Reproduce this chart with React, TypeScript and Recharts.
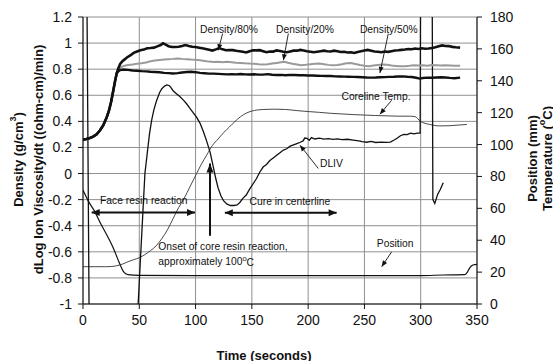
import React from 'react';
import { LineChart, Line, XAxis, YAxis, CartesianGrid, ReferenceLine, ReferenceDot } from 'recharts';

const timeTicks = [0, 50, 100, 150, 200, 250, 300, 350];
const minorTimeTicks = [0, 10, 20, 30, 40, 50, 60, 70, 80, 90, 100, 110, 120, 130, 140, 150, 160, 170, 180, 190, 200, 210, 220, 230, 240, 250, 260, 270, 280, 290, 300, 310, 320, 330, 340, 350];
const leftTicks = [-1, -0.8, -0.6, -0.4, -0.2, 0, 0.2, 0.4, 0.6, 0.8, 1, 1.2];
const rightTicks = [0, 20, 40, 60, 80, 100, 120, 140, 160, 180];

// shared rise of the three density profiles (s, g/cm3)
const densityRise: [number, number][] = [
  [0, 0.26], [3, 0.265], [6, 0.272], [9, 0.283], [12, 0.3], [15, 0.33], [18, 0.37], [21, 0.43],
  [23, 0.48], [25, 0.55], [27, 0.64], [28.5, 0.71],
];

const density80: [number, number][] = [
  [30, 0.77], [31.5, 0.81], [33, 0.84], [35, 0.862], [37, 0.875], [39, 0.89], [42, 0.905], [45, 0.925],
  [48, 0.935], [51, 0.945], [54, 0.95], [57, 0.96], [60, 0.962], [63, 0.965], [66, 0.975], [69, 0.985],
  [71, 0.998], [73, 0.99], [76, 0.976], [79, 0.97], [82, 0.97], [85, 0.972], [88, 0.978], [91, 0.985],
  [94, 0.978], [97, 0.972], [100, 0.97], [103, 0.965], [106, 0.96], [109, 0.955], [112, 0.949], [115, 0.943],
  [118, 0.952], [121, 0.962], [124, 0.952], [127, 0.945], [130, 0.947], [133, 0.946], [136, 0.941],
  [139, 0.938], [142, 0.933], [145, 0.928], [148, 0.937], [151, 0.945], [154, 0.944], [157, 0.946],
  [160, 0.938], [163, 0.93], [166, 0.936], [169, 0.935], [172, 0.944], [175, 0.94], [178, 0.934],
  [181, 0.93], [184, 0.936], [187, 0.942], [190, 0.942], [193, 0.948], [196, 0.943], [199, 0.938],
  [202, 0.934], [205, 0.93], [208, 0.934], [211, 0.938], [214, 0.942], [217, 0.938], [220, 0.936],
  [223, 0.942], [226, 0.938], [229, 0.932], [232, 0.933], [235, 0.928], [238, 0.93], [241, 0.924],
  [244, 0.932], [247, 0.938], [250, 0.943], [253, 0.948], [256, 0.942], [259, 0.936], [262, 0.934],
  [265, 0.93], [268, 0.935], [271, 0.933], [274, 0.938], [277, 0.943], [280, 0.945], [283, 0.948],
  [286, 0.951], [289, 0.955], [292, 0.953], [295, 0.958], [298, 0.955], [301, 0.96], [304, 0.957],
  [307, 0.959], [310, 0.963], [313, 0.968], [316, 0.975], [319, 0.982], [322, 0.978], [325, 0.977],
  [328, 0.971], [331, 0.968], [335, 0.965],
];

const density20: [number, number][] = [
  [30, 0.77], [31.5, 0.795], [33, 0.81], [36, 0.825], [40, 0.832], [44, 0.836], [48, 0.842], [52, 0.846],
  [56, 0.852], [60, 0.86], [64, 0.866], [68, 0.87], [72, 0.874], [76, 0.877], [80, 0.879], [84, 0.882],
  [88, 0.879], [92, 0.877], [96, 0.874], [100, 0.872], [104, 0.868], [108, 0.863], [112, 0.858],
  [116, 0.855], [120, 0.857], [124, 0.853], [128, 0.856], [132, 0.853], [136, 0.85], [140, 0.848],
  [144, 0.845], [148, 0.843], [152, 0.842], [156, 0.838], [160, 0.836], [164, 0.838], [168, 0.843],
  [172, 0.848], [176, 0.853], [179, 0.856], [182, 0.849], [186, 0.841], [190, 0.836], [194, 0.831],
  [198, 0.834], [202, 0.838], [206, 0.842], [210, 0.843], [214, 0.838], [218, 0.833], [222, 0.83],
  [226, 0.832], [230, 0.838], [234, 0.845], [238, 0.848], [242, 0.84], [246, 0.832], [250, 0.826],
  [254, 0.822], [258, 0.828], [262, 0.832], [266, 0.835], [270, 0.834], [274, 0.828], [278, 0.825],
  [282, 0.822], [286, 0.823], [290, 0.826], [294, 0.83], [298, 0.828], [302, 0.83], [306, 0.826],
  [310, 0.832], [314, 0.83], [318, 0.828], [322, 0.83], [326, 0.828], [330, 0.826], [335, 0.826],
];

const density50: [number, number][] = [
  [30, 0.77], [31.5, 0.785], [33, 0.793], [36, 0.797], [40, 0.795], [44, 0.79], [48, 0.788], [52, 0.785],
  [56, 0.783], [60, 0.78], [64, 0.778], [68, 0.776], [72, 0.772], [76, 0.77], [80, 0.767], [84, 0.77],
  [88, 0.775], [92, 0.778], [96, 0.78], [100, 0.777], [104, 0.772], [108, 0.769], [112, 0.766],
  [116, 0.766], [120, 0.764], [124, 0.762], [128, 0.76], [132, 0.761], [136, 0.76], [140, 0.763],
  [144, 0.76], [148, 0.759], [152, 0.761], [156, 0.758], [160, 0.758], [164, 0.762], [168, 0.757],
  [172, 0.755], [176, 0.756], [180, 0.754], [184, 0.756], [188, 0.755], [192, 0.753], [196, 0.754],
  [200, 0.752], [204, 0.751], [208, 0.75], [212, 0.749], [216, 0.748], [220, 0.748], [224, 0.745],
  [228, 0.744], [232, 0.743], [236, 0.742], [240, 0.741], [244, 0.74], [248, 0.738], [252, 0.736],
  [256, 0.735], [260, 0.736], [264, 0.738], [268, 0.739], [272, 0.741], [276, 0.742], [280, 0.744],
  [284, 0.745], [288, 0.742], [292, 0.74], [296, 0.734], [299, 0.728], [302, 0.732], [306, 0.735],
  [310, 0.734], [314, 0.736], [318, 0.738], [322, 0.736], [326, 0.733], [330, 0.731], [335, 0.735],
];

// dLog ion viscosity / dt, runs off the plot at both ends of the press cycle
const dliv: [number, number][] = [
  [3.3, 1.6], [5.6, -1.3], [20, -3], [47, -3], [49, -1], [51, -0.66], [53, -0.33], [55, 0], [57, 0.15],
  [59, 0.3], [61, 0.41], [63, 0.49], [65.4, 0.56], [68, 0.62], [70, 0.65], [72.5, 0.67], [74.5, 0.68],
  [76.5, 0.675], [78, 0.66], [80, 0.635], [83, 0.612], [86, 0.59], [89, 0.565], [92, 0.535], [95, 0.5],
  [98, 0.465], [101, 0.43], [104, 0.385], [107, 0.32], [110, 0.245], [113, 0.16], [115.5, 0.06],
  [118, -0.04], [120, -0.11], [122.5, -0.17], [125, -0.21], [128, -0.235], [131, -0.245], [134, -0.245],
  [137, -0.24], [139.5, -0.22], [142, -0.19], [145, -0.165], [148, -0.12], [151, -0.08], [154, -0.04],
  [157, 0.01], [160, 0.05], [163, 0.07], [166, 0.1], [169, 0.12], [172, 0.14], [175, 0.16], [178, 0.18],
  [181, 0.19], [184, 0.21], [187, 0.22], [190, 0.23], [193, 0.24], [195.5, 0.25], [197, 0.272],
  [199, 0.27], [201, 0.255], [203, 0.276], [206, 0.265], [210, 0.271], [214, 0.264], [218, 0.268],
  [222, 0.262], [226, 0.266], [230, 0.26], [235, 0.263], [240, 0.257], [245, 0.25], [248, 0.245],
  [252, 0.24], [256, 0.246], [260, 0.238], [265, 0.241], [270, 0.239], [273, 0.241], [276, 0.255],
  [279, 0.27], [282, 0.29], [285, 0.3], [288, 0.298], [291, 0.31], [294, 0.304], [297, 0.31],
  [299.5, 0.31], [300.3, 3], [309.6, 3], [310.8, -0.2], [312.5, -0.23], [315, -0.16], [317.5, -0.12],
  [320, -0.07],
];

// coreline temperature (s, degC)
const corelineTemp: [number, number][] = [
  [0, 23.4], [10, 23.4], [20, 23.4], [25, 23.5], [30, 24], [35, 25], [40, 26.5], [45, 27.8], [50, 29],
  [55, 31], [60, 33.5], [65, 36.5], [70, 41], [75, 46.5], [80, 53.5], [85, 60.5], [90, 66.5], [95, 73.5],
  [100, 80.5], [105, 87.5], [110, 93.5], [115, 99.5], [120, 103.5], [125, 107.5], [130, 111],
  [135, 114.5], [140, 117.5], [145, 119.7], [150, 121], [155, 121.7], [160, 122], [170, 122.2],
  [180, 122], [190, 121.3], [200, 120.7], [210, 120.2], [220, 119.6], [230, 119.2], [240, 118.8],
  [250, 118.5], [260, 118.2], [270, 118], [280, 117.8], [290, 117.8], [295, 117.5], [297, 116.5],
  [300, 114.5], [303, 113.5], [308, 112.6], [312, 112], [317, 111.7], [325, 111.8], [333, 112.2],
  [341, 112.6],
];

// platen position (s, mm)
const platenPosition: [number, number][] = [
  [0, 71.5], [4.4, 65], [10.6, 57.8], [16, 50], [22, 42.2], [27, 35], [31, 28], [34, 23], [36, 20.3],
  [38, 18.9], [40, 18.4], [50, 18], [100, 17.8], [200, 17.8], [300, 17.8], [320, 18.2], [339, 18.4],
  [341, 19.5], [343, 22], [345, 23.8], [347, 24.6], [350, 24.9],
];

const rows = (pts: [number, number][]) => pts.map(([x, y]) => ({ x, y }));

const FONT = '"Liberation Sans", Arial, Helvetica, sans-serif';
const INK = '#111';

const arrowHead = (tx: number, ty: number, fx: number, fy: number, len: number, half: number) => {
  const a = Math.atan2(ty - fy, tx - fx);
  const bx = tx - len * Math.cos(a);
  const by = ty - len * Math.sin(a);
  const px = -Math.sin(a) * half;
  const py = Math.cos(a) * half;
  return `${tx},${ty} ${bx + px},${by + py} ${bx - px},${by - py}`;
};

const arrowShape = (width: number, len: number, half: number, both = false) => (p: any) => {
  const { x1, y1, x2, y2 } = p;
  return (
    <g>
      <line x1={x1} y1={y1} x2={x2} y2={y2} stroke={INK} strokeWidth={width} />
      <polygon points={arrowHead(x2, y2, x1, y1, len, half)} fill={INK} />
      {both && <polygon points={arrowHead(x1, y1, x2, y2, len, half)} fill={INK} />}
    </g>
  );
};

const note = (content: React.ReactNode) => (p: any) => (
  <text x={p.cx} y={p.cy} fontSize={10.3} fontFamily={FONT} fill={INK} dominantBaseline="central">
    {content}
  </text>
);

const noLabel = () => <g />;

const LeftTitle = (props: any) => {
  const vb = props.viewBox || {};
  const cy = vb.height ? vb.y + vb.height / 2 - 1 : 159;
  return (
    <g fontFamily={FONT} fontWeight="bold" fontSize={13} fill={INK}>
      <text x={18} y={cy} transform={`rotate(-90 18 ${cy})`} textAnchor="middle" dominantBaseline="central">
        Density (g/cm<tspan dy={-5} fontSize={9}>3</tspan><tspan dy={5}>)</tspan>
      </text>
      <text x={38} y={cy} transform={`rotate(-90 38 ${cy})`} textAnchor="middle" dominantBaseline="central">
        dLog Ion Viscosity/dt ((ohm-cm)/min)
      </text>
    </g>
  );
};

const RightTitle = (props: any) => {
  const vb = props.viewBox || {};
  const cy = vb.height ? vb.y + vb.height / 2 - 2 : 158;
  return (
    <g fontFamily={FONT} fontWeight="bold" fontSize={13} fill={INK}>
      <text x={532} y={cy} transform={`rotate(-90 532 ${cy})`} textAnchor="middle" dominantBaseline="central">
        Position (mm)
      </text>
      <text x={547} y={cy} transform={`rotate(-90 547 ${cy})`} textAnchor="middle" dominantBaseline="central">
        Temperature (<tspan dy={-5} fontSize={9}>o</tspan><tspan dy={5}>C)</tspan>
      </text>
    </g>
  );
};

const BottomTitle = (props: any) => {
  const vb = props.viewBox || {};
  const cx = vb.width ? vb.x + vb.width / 2 - 16 : 264;
  return (
    <text x={cx} y={355} textAnchor="middle" dominantBaseline="central" fontFamily={FONT} fontWeight="bold" fontSize={13} fill={INK}>
      Time (seconds)
    </text>
  );
};

const tickStyle = { fontSize: 14, fill: INK, fontFamily: FONT };

export default function App() {
  return (
    <div style={{ width: 553, height: 361, background: '#fff' }}>
      <style>{'body{margin:0;background:#fff}'}</style>
      <LineChart width={553} height={361} margin={{ top: 17, right: 0, bottom: 0, left: 0 }}>
        <CartesianGrid xAxisId="main" yAxisId="left" stroke="#8f8f8f" strokeWidth={1} />
        <XAxis
          xAxisId="minor"
          type="number"
          dataKey="x"
          domain={[0, 350]}
          allowDataOverflow
          ticks={minorTimeTicks}
          interval={0}
          tick={noLabel}
          tickSize={-4}
          axisLine={false}
          tickLine={{ stroke: INK }}
          height={0}
        />
        <XAxis
          xAxisId="main"
          type="number"
          dataKey="x"
          domain={[0, 350]}
          allowDataOverflow
          ticks={timeTicks}
          interval={0}
          tick={tickStyle}
          tickSize={5}
          tickMargin={6}
          axisLine={{ stroke: INK }}
          tickLine={{ stroke: INK }}
          height={57}
          label={BottomTitle}
        />
        <YAxis
          yAxisId="left"
          orientation="left"
          type="number"
          domain={[-1, 1.2]}
          allowDataOverflow
          ticks={leftTicks}
          interval={0}
          tick={tickStyle}
          tickSize={5}
          tickMargin={6}
          axisLine={{ stroke: INK }}
          tickLine={{ stroke: INK }}
          width={83}
          label={LeftTitle}
        />
        <YAxis
          yAxisId="rightInner"
          orientation="right"
          type="number"
          domain={[0, 180]}
          allowDataOverflow
          ticks={rightTicks}
          interval={0}
          tick={noLabel}
          tickSize={-3}
          axisLine={false}
          tickLine={{ stroke: INK }}
          width={0}
        />
        <YAxis
          yAxisId="right"
          orientation="right"
          type="number"
          domain={[0, 180]}
          allowDataOverflow
          ticks={rightTicks}
          interval={0}
          tick={tickStyle}
          tickSize={5}
          tickMargin={8}
          axisLine={{ stroke: INK }}
          tickLine={{ stroke: INK }}
          width={76}
          label={RightTitle}
        />

        <Line xAxisId="minor" yAxisId="rightInner" data={rows(platenPosition)} dataKey="y" type="monotone" stroke={INK} strokeWidth={1.2} dot={false} activeDot={false} isAnimationActive={false} />
        <Line xAxisId="main" yAxisId="right" data={rows(corelineTemp)} dataKey="y" type="monotone" stroke="#333" strokeWidth={0.9} dot={false} activeDot={false} isAnimationActive={false} />
        <Line xAxisId="main" yAxisId="left" data={rows(dliv)} dataKey="y" type="linear" stroke={INK} strokeWidth={1.3} dot={false} activeDot={false} isAnimationActive={false} />
        <Line xAxisId="main" yAxisId="left" data={rows([...densityRise, ...density20])} dataKey="y" type="linear" stroke="#9a9a9a" strokeWidth={2} dot={false} activeDot={false} isAnimationActive={false} />
        <Line xAxisId="main" yAxisId="left" data={rows([...densityRise, ...density50])} dataKey="y" type="linear" stroke={INK} strokeWidth={2.4} dot={false} activeDot={false} isAnimationActive={false} />
        <Line xAxisId="main" yAxisId="left" data={rows([...densityRise, ...density80])} dataKey="y" type="linear" stroke={INK} strokeWidth={2.6} dot={false} activeDot={false} isAnimationActive={false} />

        <ReferenceDot xAxisId="main" yAxisId="left" x={104} y={1.105} shape={note('Density/80%')} />
        <ReferenceDot xAxisId="main" yAxisId="left" x={171.5} y={1.105} shape={note('Density/20%')} />
        <ReferenceDot xAxisId="main" yAxisId="left" x={246} y={1.105} shape={note('Density/50%')} />
        <ReferenceDot xAxisId="main" yAxisId="left" x={229.6} y={0.587} shape={note('Coreline Temp.')} />
        <ReferenceDot xAxisId="main" yAxisId="left" x={210.5} y={0.077} shape={note('DLIV')} />
        <ReferenceDot xAxisId="main" yAxisId="left" x={15.1} y={-0.204} shape={note('Face resin reaction')} />
        <ReferenceDot xAxisId="main" yAxisId="left" x={148} y={-0.216} shape={note('Cure in centerline')} />
        <ReferenceDot xAxisId="main" yAxisId="left" x={66.9} y={-0.561} shape={note('Onset of core resin reaction,')} />
        <ReferenceDot
          xAxisId="main"
          yAxisId="left"
          x={66.9}
          y={-0.676}
          shape={note(<>approximately 100<tspan dy={-4} fontSize={7.5}>o</tspan><tspan dy={4}>C</tspan></>)}
        />
        <ReferenceDot xAxisId="main" yAxisId="left" x={261} y={-0.534} shape={note('Position')} />

        <ReferenceLine xAxisId="main" yAxisId="left" segment={[{ x: 124, y: 1.073 }, { x: 120.2, y: 0.945 }]} shape={arrowShape(0.9, 6, 2.5)} />
        <ReferenceLine xAxisId="main" yAxisId="left" segment={[{ x: 182.4, y: 1.073 }, { x: 178, y: 0.868 }]} shape={arrowShape(0.9, 6, 2.5)} />
        <ReferenceLine xAxisId="main" yAxisId="left" segment={[{ x: 271.2, y: 1.073 }, { x: 263.8, y: 0.771 }]} shape={arrowShape(0.9, 6, 2.5)} />
        <ReferenceLine xAxisId="main" yAxisId="left" segment={[{ x: 274.2, y: 0.562 }, { x: 263.8, y: 0.455 }]} shape={arrowShape(0.9, 6, 2.5)} />
        <ReferenceLine xAxisId="main" yAxisId="left" segment={[{ x: 209, y: 0.039 }, { x: 192.8, y: 0.217 }]} shape={arrowShape(0.9, 6, 2.5)} />
        <ReferenceLine xAxisId="main" yAxisId="left" segment={[{ x: 274.2, y: -0.6 }, { x: 265.3, y: -0.714 }]} shape={arrowShape(0.9, 6, 2.5)} />
        <ReferenceLine xAxisId="main" yAxisId="left" segment={[{ x: 7.7, y: -0.298 }, { x: 99.5, y: -0.298 }]} shape={arrowShape(2, 8, 3.5, true)} />
        <ReferenceLine xAxisId="main" yAxisId="left" segment={[{ x: 126, y: -0.3 }, { x: 225.3, y: -0.3 }]} shape={arrowShape(2, 8, 3.5, true)} />
        <ReferenceLine xAxisId="main" yAxisId="left" segment={[{ x: 112.8, y: -0.477 }, { x: 112.8, y: 0.077 }]} shape={arrowShape(2, 9, 3.5)} />
      </LineChart>
    </div>
  );
}
